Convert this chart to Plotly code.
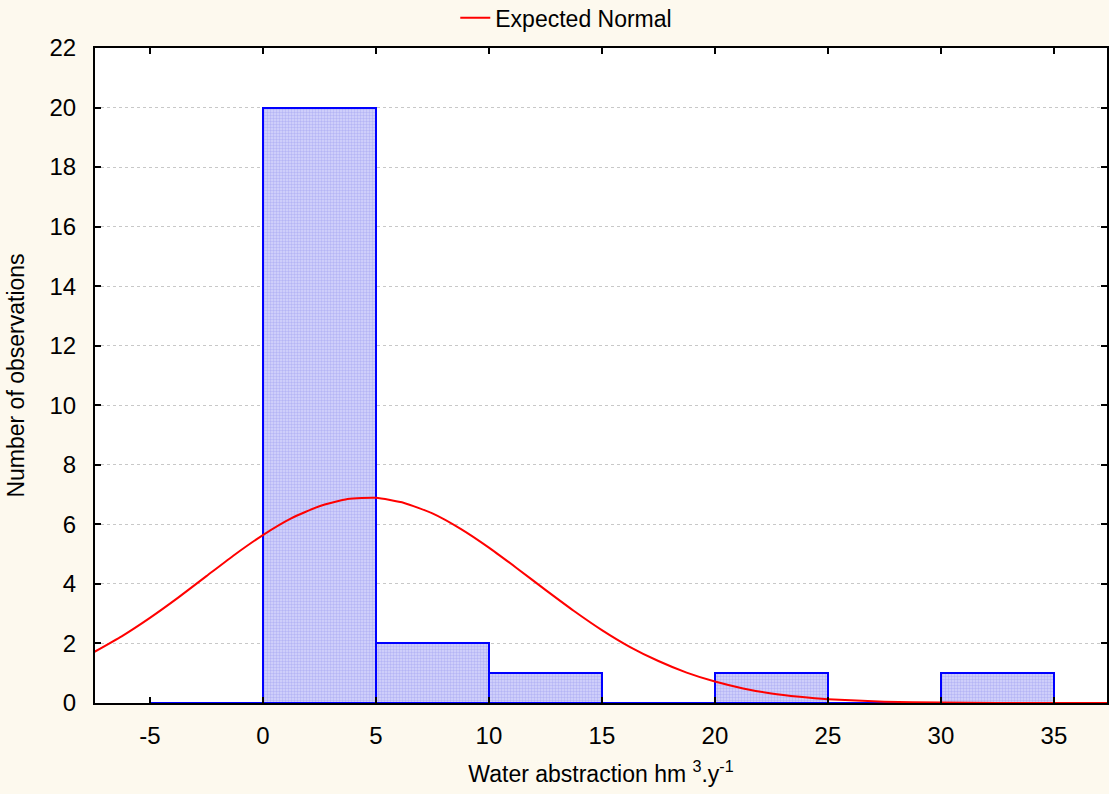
import plotly.graph_objects as go

# Histogram bins (left edge, right edge) and counts
bin_left = [-5, 0, 5, 10, 15, 20, 25, 30]
bin_right = [0, 5, 10, 15, 20, 25, 30, 35]
counts = [0, 20, 2, 1, 0, 1, 0, 1]

# Expected normal curve
curve_x = [-7.5, -6.25, -5, -3.75, -2.5, -1.25, 0, 1.25, 2.5, 3.75, 5, 6.25, 7.5, 8.75, 10,
           11.25, 12.5, 13.75, 15, 16.25, 17.5, 18.75, 20, 21.25, 22.5, 23.75, 25, 27.5, 30,
           32.5, 35, 37.5]
curve_y = [1.70, 2.24, 2.86, 3.54, 4.26, 4.98, 5.64, 6.20, 6.61, 6.85, 6.89, 6.72, 6.37, 5.85, 5.22,
           4.52, 3.80, 3.10, 2.45, 1.88, 1.41, 1.02, 0.72, 0.49, 0.32, 0.21, 0.13, 0.046, 0.015,
           0.004, 0.001, 0.0002]

x_ticks = [-5, 0, 5, 10, 15, 20, 25, 30, 35]
y_ticks = [0, 2, 4, 6, 8, 10, 12, 14, 16, 18, 20, 22]

FONT = "Liberation Sans, Arial, sans-serif"

centers = [(a + b) / 2 for a, b in zip(bin_left, bin_right)]
widths = [b - a for a, b in zip(bin_left, bin_right)]

fig = go.Figure()
fig.add_trace(go.Bar(
    x=centers, y=counts, width=widths,
    marker=dict(
        color="#c0c0f8",
        line=dict(color="#0000ff", width=2),
        pattern=dict(shape=".", fgcolor="#9494f0", bgcolor="#d6d6fb", size=3, solidity=0.5),
    ),
    showlegend=False, hoverinfo="skip",
))
fig.add_trace(go.Scatter(
    x=curve_x, y=curve_y, mode="lines",
    line=dict(color="#ff0000", width=2, shape="spline", smoothing=0.5),
    name="Expected Normal",
))

fig.update_layout(
    width=1109, height=794,
    margin=dict(l=95, r=2, t=48, b=91, autoexpand=False),
    paper_bgcolor="#fdf9ee", plot_bgcolor="#ffffff",
    font=dict(family=FONT, size=23, color="#000000"),
    bargap=0,
    legend=dict(orientation="h", x=0.356, xanchor="left", y=1.046, yanchor="middle",
                bgcolor="rgba(0,0,0,0)", font=dict(size=23)),
    xaxis=dict(
        range=[-7.43, 37.35], tickvals=x_ticks, ticktext=[str(v) for v in x_ticks],
        showline=True, linecolor="#000000", linewidth=2, mirror="ticks",
        ticks="inside", ticklen=6, tickwidth=2, tickcolor="#000000",
        showgrid=False, zeroline=False, ticklabelstandoff=10,
        tickfont=dict(size=24),
        title=dict(text="Water abstraction hm <sup>3</sup>.y<sup>-1</sup>", standoff=18, font=dict(size=23)),
    ),
    yaxis=dict(
        range=[0, 22], tickvals=y_ticks,
        showline=True, linecolor="#000000", linewidth=2, mirror="ticks",
        ticks="inside", ticklen=6, tickwidth=2, tickcolor="#000000",
        showgrid=True, gridcolor="#c8c8c8", gridwidth=1, griddash="dot",
        zeroline=False, ticklabelstandoff=12,
        tickfont=dict(size=24),
        title=dict(text="Number of observations", standoff=18, font=dict(size=23)),
    ),
)

fig.write_html("out.html")
